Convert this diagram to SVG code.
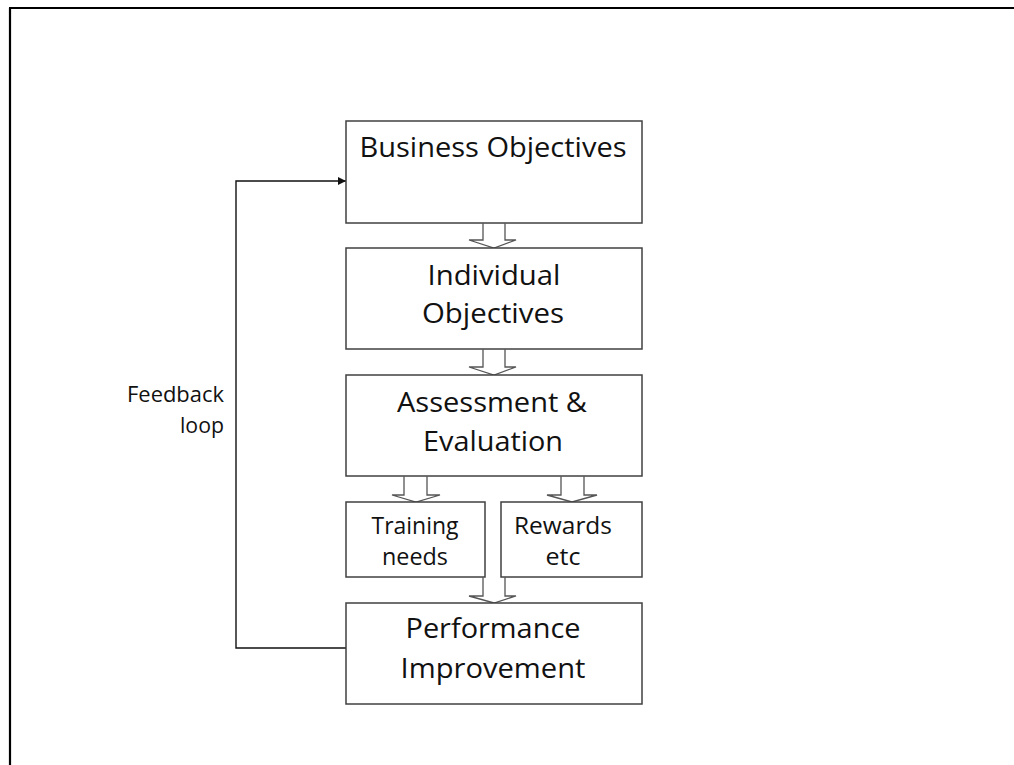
<svg xmlns="http://www.w3.org/2000/svg" width="1014" height="765" viewBox="0 0 1014 765">
<style>
.box{fill:#fff;stroke:#404040;stroke-width:1.5}
.blk{fill:#fff;stroke:#555;stroke-width:1.3;stroke-linejoin:miter}
.t{font-family:"Open Sans","Noto Sans",sans-serif;font-size:28px;fill:#111;text-anchor:middle}
.m{font-family:"Open Sans","Noto Sans",sans-serif;font-size:24px;fill:#111;text-anchor:middle}
.s{font-family:"Open Sans","Noto Sans",sans-serif;font-size:21px;fill:#111;text-anchor:end}
.fb{fill:none;stroke:#111;stroke-width:1.4}
</style>
<defs>
<marker id="ah" viewBox="0 0 10 10" refX="10" refY="5" markerWidth="10" markerHeight="8" markerUnits="userSpaceOnUse" orient="auto">
<path d="M0,0 L10,5 L0,10 z" fill="#111"/>
</marker>
</defs>
<rect x="0" y="0" width="1014" height="765" fill="#fff"/>
<g id="frame">
<line x1="10" y1="8" x2="10" y2="765" stroke="#000" stroke-width="2.2"/>
<line x1="9" y1="8" x2="1014" y2="8" stroke="#000" stroke-width="2.2"/>
</g>
<g id="connectors">
<path class="fb" d="M346,648 H236 V181 H346" marker-end="url(#ah)"/>
<path class="blk" d="M483,223.5 V240 H469 L494,248 L516,240 H505 V223.5"/>
<path class="blk" d="M483,349.5 V367 H469 L494,375 L516,367 H505 V349.5"/>
<path class="blk" d="M404,476.5 V495 H392 L416,502 L440,495 H427 V476.5"/>
<path class="blk" d="M561,476.5 V495 H547 L572,502 L597,495 H584 V476.5"/>
<path class="blk" d="M483,577.5 V596 H469 L494,603 L516,596 H505 V577.5"/>
</g>
<g id="business">
<rect class="box" x="346" y="121" width="296" height="102"/>
<text class="t" x="493" y="157" textLength="267" lengthAdjust="spacingAndGlyphs">Business Objectives</text>
</g>
<g id="individual">
<rect class="box" x="346" y="248" width="296" height="101"/>
<text class="t" x="494" y="285" textLength="133" lengthAdjust="spacingAndGlyphs">Individual</text>
<text class="t" x="493" y="323" textLength="142" lengthAdjust="spacingAndGlyphs">Objectives</text>
</g>
<g id="assessment">
<rect class="box" x="346" y="375" width="296" height="101"/>
<text class="t" x="492" y="412" textLength="190" lengthAdjust="spacingAndGlyphs">Assessment &amp;</text>
<text class="t" x="493" y="451" textLength="140" lengthAdjust="spacingAndGlyphs">Evaluation</text>
</g>
<g id="training">
<rect class="box" x="346" y="502" width="139" height="75"/>
<text class="m" x="415" y="534" textLength="87" lengthAdjust="spacingAndGlyphs">Training</text>
<text class="m" x="415" y="565" textLength="66" lengthAdjust="spacingAndGlyphs">needs</text>
</g>
<g id="rewards">
<rect class="box" x="501" y="502" width="141" height="75"/>
<text class="m" x="563" y="534" textLength="98" lengthAdjust="spacingAndGlyphs">Rewards</text>
<text class="m" x="563" y="565" textLength="35" lengthAdjust="spacingAndGlyphs">etc</text>
</g>
<g id="performance">
<rect class="box" x="346" y="603" width="296" height="101"/>
<text class="t" x="493" y="638" textLength="175" lengthAdjust="spacingAndGlyphs">Performance</text>
<text class="t" x="493" y="678" textLength="185" lengthAdjust="spacingAndGlyphs">Improvement</text>
</g>
<g id="feedback-label">
<text class="s" x="224" y="402" textLength="97" lengthAdjust="spacingAndGlyphs">Feedback</text>
<text class="s" x="224" y="433" textLength="44" lengthAdjust="spacingAndGlyphs">loop</text>
</g>
</svg>
